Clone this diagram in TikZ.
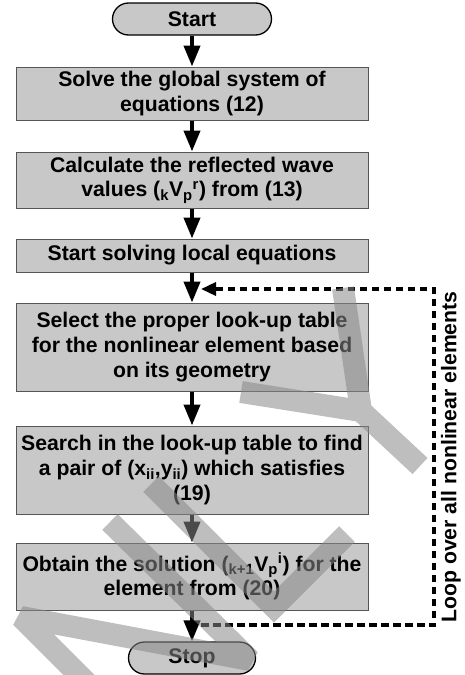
\documentclass[tikz,border=0pt]{standalone}
\usepackage{fontspec}
\setmainfont{Liberation Sans}
\usetikzlibrary{arrows.meta}
\definecolor{boxfill}{RGB}{200,200,200}
\definecolor{boxline}{RGB}{85,85,85}
\definecolor{wmark}{RGB}{136,136,136}
\newcommand\sbsc[1]{\textsubscript{#1}}
\newcommand\spsc[1]{\textsuperscript{#1}}
\begin{document}
\begin{tikzpicture}[x=1pt,y=-1pt,
  txt/.style={font=\fontsize{21.2}{24.7}\selectfont\bfseries},
  proc/.style={txt, draw=boxline, line width=1pt, fill=boxfill, minimum width=352pt, inner sep=0pt, align=center},
  term/.style={txt, draw=black, line width=1.3pt, fill=boxfill, rounded corners=16pt, inner sep=0pt, minimum height=32pt},
  flow/.style={line width=4pt, -{Triangle[length=21pt,width=16pt]}},
  loopline/.style={line width=3.4pt, dash pattern=on 7.5pt off 4.5pt, -{Triangle[length=15pt,width=13pt]}},
  wm/.style={line width=22pt, draw=wmark, line join=miter, miter limit=2}
]
\useasboundingbox (0,0) rectangle (464,675);
\node[term, minimum width=159pt] (start) at (192,19) {Start};
\node[proc, minimum height=53pt] (b1) at (192,93.5) {Solve the global system of\\equations (12)};
\node[proc, minimum height=56pt] (b2) at (192,180) {Calculate the reflected wave\\values (\sbsc{k}V\sbsc{p}\spsc{r}) from (13)};
\node[proc, minimum height=33pt] (b3) at (192,255.5) {Start solving local equations};
\node[proc, minimum height=88pt] (b4) at (192,347) {Select the proper look-up table\\for the nonlinear element based\\on its geometry};
\node[proc, minimum height=88pt] (b5) at (192,470) {Search in the look-up table to find\\a pair of (x\sbsc{ii},y\sbsc{ii}) which satisfies\\(19)};
\node[proc, minimum height=67pt] (b6) at (192,576.5) {Obtain the solution (\sbsc{k+1}V\sbsc{p}\spsc{i}) for the\\element from (20)};
\node[term, minimum width=127pt] (stop) at (192,658) {Stop};
\draw[flow] (start) -- (b1);
\draw[flow] (b1) -- (b2);
\draw[flow] (b2) -- (b3);
\draw[flow] (b3) -- (b4);
\draw[flow] (b4) -- (b5);
\draw[flow] (b5) -- (b6);
\draw[flow] (b6) -- (stop);
\coordinate (lstart) at (201,625);
\coordinate (lc1) at (434,625);
\coordinate (lc2) at (434,289);
\coordinate (ltip) at (201,289);
\draw[loopline] (lstart) -- (lc1) -- (lc2) -- (ltip);
\node[txt, rotate=90] (lbl) at (451,457) {Loop over all nonlinear elements};
\begin{scope}[transparency group, opacity=0.55]
\clip (0,0) rectangle (464,675);
\draw[wm] (150,746) -- (21,617) -- (250,660) -- (110,522);
\draw[wm] (151,484) -- (274,607) -- (347,534);
\draw[wm] (343,288) -- (361,411) -- (420,466);
\draw[wm] (241,392) -- (361,411);
\end{scope}
\end{tikzpicture}
\end{document}
